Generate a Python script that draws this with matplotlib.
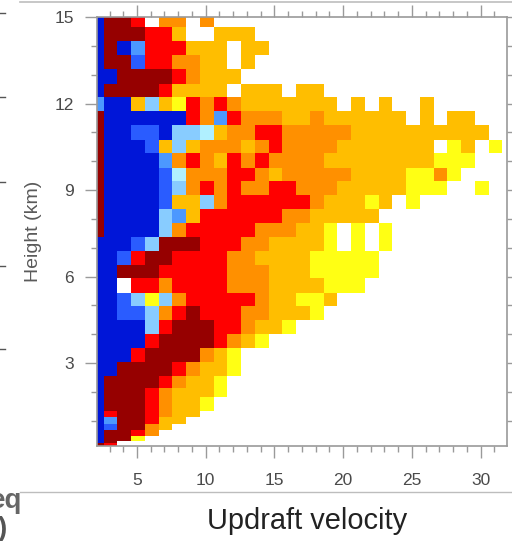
import numpy as np
import matplotlib
matplotlib.use("Agg")
import matplotlib.pyplot as plt
from matplotlib.colors import ListedColormap
from matplotlib.lines import Line2D
from matplotlib.ticker import MultipleLocator

plt.rcParams['font.family'] = ['Liberation Sans', 'DejaVu Sans']

# frequency class of each velocity bin, top row first ('.' = no data)
rows = [
    "DMMR.OO.O",
    "DMMMRRG..GGG",
    "DMDCRRRGGG.GG",
    "DMMBRROOGG.G",
    "DDMMMMROGGG",
    "DMMMMRGGGG.GGG.GG",
    "CDDGLGYRORO" + "GGGG" + "GGG.G.G..G",
    "MDDDDDDROCROOOGGO" + "GGGGGG.G.GG",
    "MDDBBDLLPGOORRO" + "OOOO" + "GGGGGGGGGG",
    "MDDDBGLGOOOGORO" + "OOO" + "GGGGGGG.YG.Y",
    "MDDDDCOROGROROO" + "OO" + "GGGGGGGGYYY",
    "MDDDDBPOOORROGO" + "OOOO" + "GGGGYYOY",
    "MDDDDBLOROROORR" + "OOO" + "GGGGGYYY..Y",
    "MDDDDBGGLORRRRR" + "RO" + "GGGYG.Y",
    "MDDDDLCGRRRRRROO" + "GGGGG",
    "MDDDDLORRRRROOO" + "GG" + "Y.Y.Y",
    "DDDBLMMMRRROO" + "GGGG" + "Y.Y.Y",
    "DDBRMMRRRROO" + "GGGG" + "YYYYY",
    "DDMMMRRRRROOO" + "GGG" + "YYYYY",
    "DD.RRORRRROOO" + "GGGG" + "YYY",
    "DDBLYLORRRRRO" + "GG" + "YYG",
    "DDBBLORMRRROO" + "GGG" + "Y",
    "DDDDLRMMMRROGGY",
    "DDDDRMMMMROGY",
    "DDDRMMMMOGY",
    "DDMMMMROGGY",
    "DMMMMROGGY",
    "DMMMROGGGY",
    "DMMMROGGY",
    "DRMMROGG",
    "DCMMRGG",
    "DBMMOG",
    "DMMRO",
    "DMMY",
    "DM",
    "MR",
]

# row edges of the height grid (km)
height_edges = [15.0, 14.65, 14.17, 13.67, 13.19, 12.69, 12.21, 11.73, 11.24,
                10.75, 10.27, 9.78, 9.31, 8.82, 8.34, 7.86, 7.38, 6.89, 6.42,
                5.94, 5.44, 4.98, 4.49, 4.01, 3.53, 3.05, 2.56, 2.13, 1.83,
                1.35, 1.12, 0.89, 0.67, 0.48, 0.30, 0.22, 0.14]

# column edges of the velocity bins
velocity_edges = [2.1] + [2.58 + i for i in range(30)]

codes = "DBCLPYGORM"
colors = ["#0016d8", "#2a5cff", "#4c98ff", "#88ccff", "#b0f0ff",
          "#ffff14", "#ffbe00", "#ff9000", "#ff0000", "#960000"]

x_ticks = [5, 10, 15, 20, 25, 30]
y_ticks = [3, 6, 9, 12, 15]

grid = np.full((len(rows), len(velocity_edges) - 1), np.nan)
for i, row in enumerate(rows):
    for j, c in enumerate(row):
        if c != ".":
            grid[i, j] = codes.index(c)

W, H = 512, 541
fig = plt.figure(figsize=(W / 100, H / 100), dpi=100)
ax = fig.add_axes([97 / W, 1 - 445.7 / H, (506.7 - 97) / W, (445.7 - 17) / H])

cmap = ListedColormap(colors)
ax.pcolormesh(velocity_edges, height_edges, np.ma.masked_invalid(grid),
              cmap=cmap, vmin=-0.5, vmax=9.5)

ax.set_xlim(2.09, 31.9)
ax.set_ylim(0.14, 15.0)
ax.set_xticks(x_ticks)
ax.set_yticks(y_ticks)
ax.xaxis.set_minor_locator(MultipleLocator(1))
ax.yaxis.set_minor_locator(MultipleLocator(1))

gray = "#9a9a9a"
ax.tick_params(which="major", length=8.6, width=1, color=gray, top=True, right=True,
               labelsize=12.5, labelcolor="#4a4a4a")
ax.tick_params(which="minor", length=4.3, width=1, color=gray, top=True, right=True)
ax.tick_params(axis="x", which="major", pad=11)
ax.tick_params(axis="y", which="major", pad=8)
# right side ticks stay short in the source
for t in ax.yaxis.get_major_ticks():
    t.tick2line.set_markersize(4.3)
for spine in ax.spines.values():
    spine.set_color(gray)
    spine.set_linewidth(1.2)

ax.set_ylabel("Height (km)", fontsize=14, color="#5a5a5a", labelpad=9)

# slide furniture around the chart
fig.add_artist(Line2D([20 / W, 1], [1 - 2 / H, 1 - 2 / H], color="#bdbdbd", lw=1.2))
fig.add_artist(Line2D([20 / W, 1], [1 - 492 / H, 1 - 492 / H], color="#bdbdbd", lw=1))
for y in [13, 97, 182, 266, 349]:
    fig.add_artist(Line2D([0, 5 / W], [1 - y / H, 1 - y / H], color="#555555", lw=1))

fig.text(307 / W, 1 - 521 / H, "Updraft velocity", fontsize=20.9, color="#222222",
         ha="center", va="center")
fig.text(22 / W, 1 - 508 / H, "eq", fontsize=20, fontweight="bold", color="#666666",
         ha="right", va="baseline")
fig.text(7 / W, 1 - 536 / H, ")", fontsize=20, fontweight="bold", color="#555555",
         ha="right", va="baseline")

fig.savefig("out.png", dpi=100)
